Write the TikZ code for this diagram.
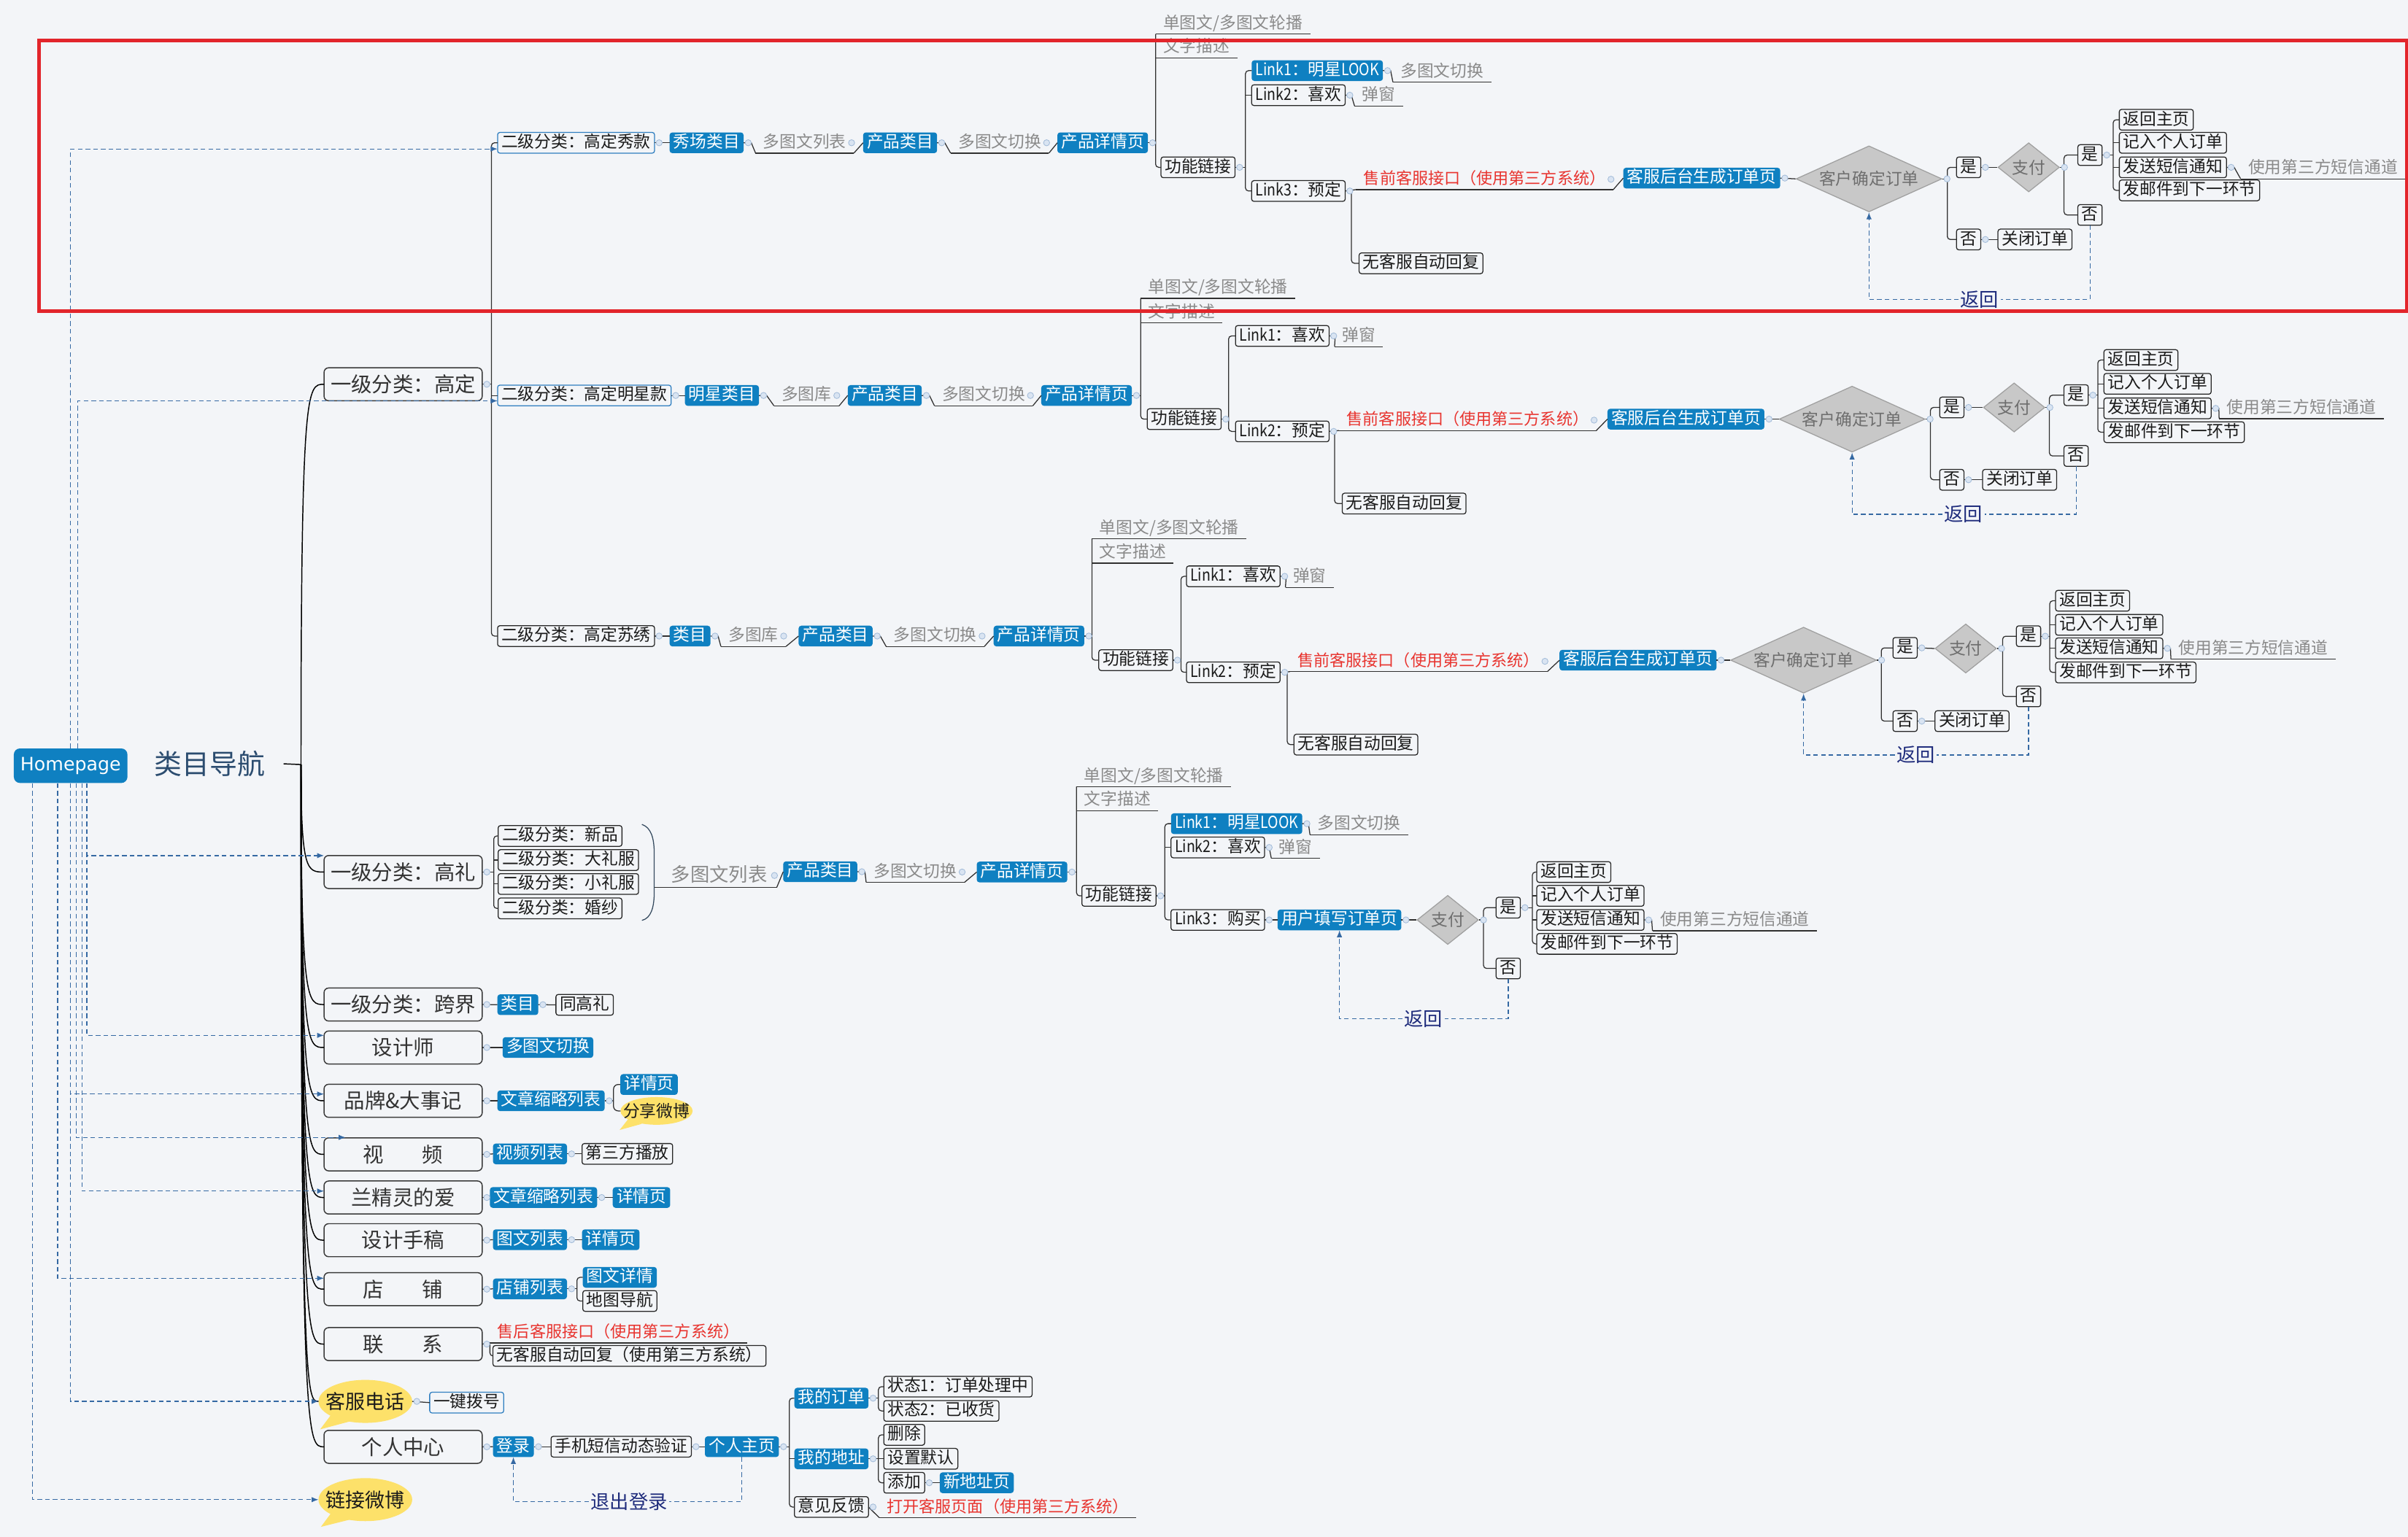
\documentclass[tikz,border=0pt]{standalone}
\usepackage{fontspec}
\setmainfont{Noto Sans CJK SC}
\newfontfamily\lat[FakeStretch=0.86]{Noto Sans CJK SC}
\newfontfamily\hpfont{DejaVu Sans}
\usetikzlibrary{calc,shapes.geometric,arrows.meta}
\definecolor{bgc}{HTML}{F3F5F8}
\definecolor{nbl}{HTML}{0F80C1}
\definecolor{boxc}{HTML}{262626}
\definecolor{boxcA}{HTML}{3A3A3A}
\definecolor{bdb}{HTML}{2F7EC0}
\definecolor{gtx}{HTML}{8A8A8A}
\definecolor{ulc}{HTML}{303030}
\definecolor{rdx}{HTML}{E8342F}
\definecolor{txt}{HTML}{1A1A1A}
\definecolor{txtA}{HTML}{333333}
\definecolor{dmf}{HTML}{C8C8C8}
\definecolor{dmd}{HTML}{A0A0A0}
\definecolor{dmt}{HTML}{6E6E6E}
\definecolor{yel}{HTML}{FDE16A}
\definecolor{navy}{HTML}{1F2C7C}
\definecolor{relc}{HTML}{3569A3}
\definecolor{knf}{HTML}{D9E4F2}
\definecolor{knd}{HTML}{A3BCD9}
\definecolor{ttl}{HTML}{2B4C6F}
\definecolor{redc}{HTML}{E2252B}
\definecolor{brc}{HTML}{34495E}
\newcommand\fsA{\fontsize{10.8pt}{12pt}\selectfont}
\newcommand\fsR{\fontsize{10.5pt}{12pt}\selectfont}
\newcommand\fsB{\fontsize{13.5pt}{15pt}\selectfont}
\newcommand\fsC{\fontsize{12.8pt}{14pt}\selectfont}
\newcommand\fsD{\fontsize{12.5pt}{14pt}\selectfont}
\newcommand\fsE{\fontsize{18pt}{20pt}\selectfont}
\newcommand\fsG{\fontsize{12.5pt}{14pt}\selectfont}
\begin{document}
\begin{tikzpicture}[x=1pt,y=-1pt,
 base/.style={font=\fsA, inner xsep=2.5pt, inner ysep=1pt, text height=9pt, text depth=2.5pt, outer sep=0pt},
 bx/.style={base, draw=boxc, fill=bgc, line width=0.6pt, rounded corners=1.5pt, text=txt},
 bxb/.style={bx, draw=bdb},
 bl/.style={base, fill=nbl, text=white, rounded corners=1.8pt},
 ulbase/.style={base, inner xsep=5pt, append after command={(\tikzlastnode.south west) edge[draw=ulc, line width=0.6pt] (\tikzlastnode.south east)}},
 gt/.style={ulbase, text=gtx},
 gtB/.style={gt, font=\fsG, text height=10.5pt, text depth=3pt, minimum width=75pt},
 rd/.style={ulbase, text=rdx, font=\fsR},
 one/.style={draw=boxcA, fill=bgc, line width=0.7pt, rounded corners=3pt, font=\fsB, minimum width=103pt, minimum height=21.5pt, inner sep=0pt, text=txtA, outer sep=0pt},
 dmL/.style={diamond, aspect=2, minimum width=95pt, minimum height=43pt, inner sep=0pt, fill=dmf, draw=dmd, line width=0.6pt, text=dmt, font=\fsA},
 dmS/.style={diamond, aspect=1, minimum width=40pt, minimum height=32pt, inner sep=0pt, fill=dmf, draw=dmd, line width=0.6pt, text=dmt, font=\fsA},
 cb/.style={ellipse, fill=yel, draw=none, inner sep=0pt, text=txt, outer sep=0pt},
 tail/.style={fill=yel},
 lbl/.style={font=\fsD, text=navy, fill=bgc, inner xsep=1pt, inner ysep=0pt},
 ln/.style={draw=ulc, line width=0.6pt},
 trunk/.style={draw=black, line width=0.7pt},
 rel/.style={draw=relc, line width=0.6pt, densely dashed},
 relar/.style={rel, -{Latex[length=4.5pt,width=3.5pt]}},
 knob/.style={draw=knd, fill=knf, line width=0.4pt}
]
\useasboundingbox (0,0) rectangle (1568,1001);
\fill[bgc] (0,0) rectangle (1568,1001);

% ---------- Homepage and root ----------
\node[fill=nbl, text=white, rounded corners=4pt, minimum width=74pt, minimum height=22.5pt, inner sep=0pt, font=\hpfont\fontsize{12pt}{14pt}\selectfont] (H) at (46,498.75) {Homepage};
\node[font=\fsE, text=ttl, inner sep=0pt] (T) at (136.5,497.5) {类目导航};
\coordinate (root) at (196,498);
\coordinate (cc) at (200,0);

% ---------- level 1 ----------
\node[one,anchor=west] (L1) at (211,250.3) {一级分类：高定};
\node[one,anchor=west] (L2) at (211,568) {一级分类：高礼};
\node[one,anchor=west] (L3) at (211,654.3) {一级分类：跨界};
\node[one,anchor=west] (L4) at (211,682.3) {设计师};
\node[one,anchor=west] (L5) at (211,717) {品牌\&大事记};
\node[one,anchor=west] (L6) at (211,751.9) {视\hspace{1.85em}频};
\node[one,anchor=west] (L7) at (211,780) {兰精灵的爱};
\node[one,anchor=west] (L8) at (211,807.8) {设计手稿};
\node[one,anchor=west] (L9) at (211,839.7) {店\hspace{1.85em}铺};
\node[one,anchor=west] (L10) at (211,875.5) {联\hspace{1.85em}系};
\fill[tail] (216,921) -- (208.5,931) -- (231,925) -- cycle;
\node[cb, font=\fsC, minimum width=61pt, minimum height=28pt] (L11) at (237.9,912.8) {\makebox[0pt]{客服电话}};
\node[one,anchor=west] (L12) at (211,942.4) {个人中心};
\fill[tail] (216,985) -- (209,994.5) -- (231,989) -- cycle;
\node[cb, font=\fsC, minimum width=61pt, minimum height=28pt] (L13) at (237.9,976.8) {\makebox[0pt]{链接微博}};

% ---------- trunk ----------
\draw[trunk] ([xshift=12pt]T.east) -- (root);
\foreach \nm in {L1,L2,L3,L4,L5,L6,L7,L8,L9,L10,L11,L12}{
  \draw[trunk] (root) .. controls (root |- \nm.west) and (cc |- \nm.west) .. (\nm.west);
}

% ---------- Block 1 ----------
\node[bxb,anchor=west] (a1) at (324,93) {二级分类：高定秀款};
\node[bl,anchor=west] (a2) at (436,93) {秀场类目};
\node[gt,anchor=west] (a3) at (492,93) {多图文列表};
\node[bl,anchor=west] (a4) at (562,93) {产品类目};
\node[gt,anchor=west] (a5) at (619,93) {多图文切换};
\node[bl,anchor=west] (a6) at (688.5,93) {产品详情页};
\node[gt,anchor=south west] (a7) at (752.5,22.2) {单图文/多图文轮播};
\node[gt,anchor=south west] (a8) at (752.5,37.6) {文字描述};
\node[bx,anchor=west] (a9) at (756,109) {功能链接};
\node[bl,anchor=west] (a10) at (815,46) {{\lat Link1}：明星{\lat LOOK}};
\node[bx,anchor=west] (a11) at (815,62) {{\lat Link2}：喜欢};
\node[bx,anchor=west] (a12) at (815,124.4) {{\lat Link3}：预定};
\node[gt,anchor=south west] (a13) at (907,53.5) {多图文切换};
\node[gt,anchor=south west] (a14) at (882,69) {弹窗};
\node[rd,anchor=south west] (a15) at (883,123.5) {售前客服接口（使用第三方系统）};
\node[bx,anchor=west] (a16) at (885,171.5) {无客服自动回复};
\node[bl,anchor=west] (a17) at (1057,116) {客服后台生成订单页};
\node[dmL] (a18) at (1217,116.5) {客户确定订单};
\node[bx,anchor=west] (a19) at (1274,109) {是};
\node[bx,anchor=west] (a20) at (1274,156) {否};
\node[dmS] (a21) at (1321,109) {支付};
\node[bx,anchor=west] (a22) at (1353,101) {是};
\node[bx,anchor=west] (a23) at (1353,140) {否};
\node[bx,anchor=west] (a24) at (1301,156) {关闭订单};
\node[bx,anchor=west] (a25) at (1380,78) {返回主页};
\node[bx,anchor=west] (a26) at (1380,93) {记入个人订单};
\node[bx,anchor=west] (a27) at (1380,109) {发送短信通知};
\node[bx,anchor=west] (a28) at (1380,124) {发邮件到下一环节};
\node[gt,anchor=south west] (a29) at (1459,116.5) {使用第三方短信通道};
\node[lbl] (a30) at (1289,195) {返回};

\draw[ln] (a1.east) -- (a2.west);
\draw[ln] (a2.east) -- ++(5,0) -- (a3.south west);
\draw[ln] (a3.south east) -- (a4.west);
\draw[ln] (a4.east) -- ++(5,0) -- (a5.south west);
\draw[ln] (a5.south east) -- (a6.west);
\coordinate (va) at (752.5,0);
\draw[ln] (a6.east) -- (va |- a6.east);
\draw[ln,rounded corners=2pt] (a7.south west) -- (va |- a9.west) -- (a9.west);
\coordinate (vb) at (811,0);
\draw[ln] (a9.east) -- (vb |- a9.east);
\draw[ln,rounded corners=2pt] (a10.west) -- (vb |- a10.west) -- (vb |- a12.west) -- (a12.west);
\draw[ln] (vb |- a11.west) -- (a11.west);
\draw[ln] (a10.east) -- ++(5,0) -- (a13.south west);
\draw[ln] (a11.east) -- ++(4,0) -- (a14.south west);
\coordinate (vc) at (880,0);
\draw[ln] (a12.east) -- (a15.south west);
\draw[ln,rounded corners=2pt] (vc |- a12.east) |- (a16.west);
\draw[ln] (a15.south east) -- (a17.west);
\draw[ln] (a17.east) -- (a18.west);
\coordinate (vd) at (1268,0);
\draw[ln] (a18.east) -- (vd |- a18.east);
\draw[ln,rounded corners=2pt] (a19.west) -- (vd |- a19.west) -- (vd |- a20.west) -- (a20.west);
\draw[ln] (a19.east) -- (a21.west);
\coordinate (ve) at (1344,0);
\draw[ln] (a21.east) -- (ve |- a21.east);
\draw[ln,rounded corners=2pt] (a22.west) -- (ve |- a22.west) -- (ve |- a23.west) -- (a23.west);
\draw[ln] (a20.east) -- (a24.west);
\coordinate (vf) at (1376,0);
\draw[ln] (a22.east) -- (vf |- a22.east);
\draw[ln,rounded corners=2pt] (a25.west) -- (vf |- a25.west) -- (vf |- a28.west) -- (a28.west);
\draw[ln] (vf |- a26.west) -- (a26.west);
\draw[ln] (vf |- a27.west) -- (a27.west);
\draw[ln] (a27.east) -- ++(5,0) -- (a29.south west);
\draw[rel] (a23.south) |- (a30.east);
\draw[relar] (a30.west) -| (a18.south);

% ---------- Block 2 ----------
\node[bxb,anchor=west] (b1) at (324,257.6) {二级分类：高定明星款};
\node[bl,anchor=west] (b2) at (446,257.6) {明星类目};
\node[gt,anchor=west] (b3) at (504,257.6) {多图库};
\node[bl,anchor=west] (b4) at (552,257.6) {产品类目};
\node[gt,anchor=west] (b5) at (608.5,257.6) {多图文切换};
\node[bl,anchor=west] (b6) at (678,257.6) {产品详情页};
\node[gt,anchor=south west] (b7) at (742.8,194.3) {单图文/多图文轮播};
\node[gt,anchor=south west] (b8) at (742.8,210.3) {文字描述};
\node[bx,anchor=west] (b9) at (747,273) {功能链接};
\node[bx,anchor=west] (b10) at (804.5,218.8) {{\lat Link1}：喜欢};
\node[bx,anchor=west] (b11) at (804.5,281) {{\lat Link2}：预定};
\node[gt,anchor=south west] (b12) at (869,225.8) {弹窗};
\node[rd,anchor=south west] (b13) at (872,280.4) {售前客服接口（使用第三方系统）};
\node[bx,anchor=west] (b14) at (874,328) {无客服自动回复};
\node[bl,anchor=west] (b15) at (1046.7,273) {客服后台生成订单页};
\node[dmL] (b16) at (1206,273) {客户确定订单};
\node[bx,anchor=west] (b17) at (1263,265.4) {是};
\node[bx,anchor=west] (b18) at (1263,312.5) {否};
\node[dmS] (b19) at (1311.5,265.4) {支付};
\node[bx,anchor=west] (b20) at (1344,257.4) {是};
\node[bx,anchor=west] (b21) at (1344,297) {否};
\node[bx,anchor=west] (b22) at (1291,312.5) {关闭订单};
\node[bx,anchor=west] (b23) at (1370,234.5) {返回主页};
\node[bx,anchor=west] (b24) at (1370,250) {记入个人订单};
\node[bx,anchor=west] (b25) at (1370,266) {发送短信通知};
\node[bx,anchor=west] (b26) at (1370,281.5) {发邮件到下一环节};
\node[gt,anchor=south west] (b27) at (1445,272.7) {使用第三方短信通道};
\node[lbl] (b28) at (1278.5,335) {返回};

\draw[ln] (b1.east) -- (b2.west);
\draw[ln] (b2.east) -- ++(5,0) -- (b3.south west);
\draw[ln] (b3.south east) -- (b4.west);
\draw[ln] (b4.east) -- ++(5,0) -- (b5.south west);
\draw[ln] (b5.south east) -- (b6.west);
\coordinate (vg) at (742.8,0);
\draw[ln] (b6.east) -- (vg |- b6.east);
\draw[ln,rounded corners=2pt] (b7.south west) -- (vg |- b9.west) -- (b9.west);
\coordinate (vh) at (800,0);
\draw[ln] (b9.east) -- (vh |- b9.east);
\draw[ln,rounded corners=2pt] (b10.west) -- (vh |- b10.west) -- (vh |- b11.west) -- (b11.west);
\draw[ln] (b10.east) -- ++(4,0) -- (b12.south west);
\coordinate (vi) at (869,0);
\draw[ln] (b11.east) -- (b13.south west);
\draw[ln,rounded corners=2pt] (vi |- b11.east) |- (b14.west);
\draw[ln] (b13.south east) -- (b15.west);
\draw[ln] (b15.east) -- (b16.west);
\coordinate (vj) at (1257,0);
\draw[ln] (b16.east) -- (vj |- b16.east);
\draw[ln,rounded corners=2pt] (b17.west) -- (vj |- b17.west) -- (vj |- b18.west) -- (b18.west);
\draw[ln] (b17.east) -- (b19.west);
\coordinate (vk) at (1334.5,0);
\draw[ln] (b19.east) -- (vk |- b19.east);
\draw[ln,rounded corners=2pt] (b20.west) -- (vk |- b20.west) -- (vk |- b21.west) -- (b21.west);
\draw[ln] (b18.east) -- (b22.west);
\coordinate (vl) at (1366,0);
\draw[ln] (b20.east) -- (vl |- b20.east);
\draw[ln,rounded corners=2pt] (b23.west) -- (vl |- b23.west) -- (vl |- b26.west) -- (b26.west);
\draw[ln] (vl |- b24.west) -- (b24.west);
\draw[ln] (vl |- b25.west) -- (b25.west);
\draw[ln] (b25.east) -- ++(5,0) -- (b27.south west);
\draw[rel] (b21.south) |- (b28.east);
\draw[relar] (b28.west) -| (b16.south);

% ---------- Block 3 ----------
\node[bx,anchor=west] (c1) at (324,414.3) {二级分类：高定苏绣};
\node[bl,anchor=west] (c2) at (436,414.3) {类目};
\node[gt,anchor=west] (c3) at (469.4,414.3) {多图库};
\node[bl,anchor=west] (c4) at (520,414.3) {产品类目};
\node[gt,anchor=west] (c5) at (577,414.3) {多图文切换};
\node[bl,anchor=west] (c6) at (647,414.3) {产品详情页};
\node[gt,anchor=south west] (c7) at (711,351) {单图文/多图文轮播};
\node[gt,anchor=south west] (c8) at (711,366.8) {文字描述};
\node[bx,anchor=west] (c9) at (715.5,430) {功能链接};
\node[bx,anchor=west] (c10) at (772.6,375.4) {{\lat Link1}：喜欢};
\node[bx,anchor=west] (c11) at (772.6,437.9) {{\lat Link2}：预定};
\node[gt,anchor=south west] (c12) at (837,382.6) {弹窗};
\node[rd,anchor=south west] (c13) at (840,437.5) {售前客服接口（使用第三方系统）};
\node[bx,anchor=west] (c14) at (842.6,485) {无客服自动回复};
\node[bl,anchor=west] (c15) at (1015.5,430) {客服后台生成订单页};
\node[dmL] (c16) at (1174.4,430) {客户确定订单};
\node[bx,anchor=west] (c17) at (1232.6,422) {是};
\node[bx,anchor=west] (c18) at (1232.6,469.7) {否};
\node[dmS] (c19) at (1280,422.4) {支付};
\node[bx,anchor=west] (c20) at (1313,414.4) {是};
\node[bx,anchor=west] (c21) at (1313,453.6) {否};
\node[bx,anchor=west] (c22) at (1260,469.7) {关闭订单};
\node[bx,anchor=west] (c23) at (1338.5,391.3) {返回主页};
\node[bx,anchor=west] (c24) at (1338.5,407) {记入个人订单};
\node[bx,anchor=west] (c25) at (1338.5,422.3) {发送短信通知};
\node[bx,anchor=west] (c26) at (1338.5,438) {发邮件到下一环节};
\node[gt,anchor=south west] (c27) at (1413.6,429.3) {使用第三方短信通道};
\node[lbl] (c28) at (1247.5,491.8) {返回};

\draw[ln] (c1.east) -- (c2.west);
\draw[ln] (c2.east) -- ++(5,0) -- (c3.south west);
\draw[ln] (c3.south east) -- (c4.west);
\draw[ln] (c4.east) -- ++(5,0) -- (c5.south west);
\draw[ln] (c5.south east) -- (c6.west);
\coordinate (vm) at (711,0);
\draw[ln] (c6.east) -- (vm |- c6.east);
\draw[ln,rounded corners=2pt] (c7.south west) -- (vm |- c9.west) -- (c9.west);
\coordinate (vn) at (769,0);
\draw[ln] (c9.east) -- (vn |- c9.east);
\draw[ln,rounded corners=2pt] (c10.west) -- (vn |- c10.west) -- (vn |- c11.west) -- (c11.west);
\draw[ln] (c10.east) -- ++(4,0) -- (c12.south west);
\coordinate (vo) at (838.2,0);
\draw[ln] (c11.east) -- (c13.south west);
\draw[ln,rounded corners=2pt] (vo |- c11.east) |- (c14.west);
\draw[ln] (c13.south east) -- (c15.west);
\draw[ln] (c15.east) -- (c16.west);
\coordinate (vp) at (1225,0);
\draw[ln] (c16.east) -- (vp |- c16.east);
\draw[ln,rounded corners=2pt] (c17.west) -- (vp |- c17.west) -- (vp |- c18.west) -- (c18.west);
\draw[ln] (c17.east) -- (c19.west);
\coordinate (vq) at (1304,0);
\draw[ln] (c19.east) -- (vq |- c19.east);
\draw[ln,rounded corners=2pt] (c20.west) -- (vq |- c20.west) -- (vq |- c21.west) -- (c21.west);
\draw[ln] (c18.east) -- (c22.west);
\coordinate (vr) at (1334.7,0);
\draw[ln] (c20.east) -- (vr |- c20.east);
\draw[ln,rounded corners=2pt] (c23.west) -- (vr |- c23.west) -- (vr |- c26.west) -- (c26.west);
\draw[ln] (vr |- c24.west) -- (c24.west);
\draw[ln] (vr |- c25.west) -- (c25.west);
\draw[ln] (c25.east) -- ++(5,0) -- (c27.south west);
\draw[rel] (c21.south) |- (c28.east);
\draw[relar] (c28.west) -| (c16.south);

\coordinate (vs) at (320,0);
\draw[ln] (L1.east) -- (vs |- L1.east);
\draw[ln,rounded corners=2pt] (a1.west) -- (vs |- a1.west) -- (vs |- c1.west) -- (c1.west);
\draw[ln] (vs |- b1.west) -- (b1.west);

% ---------- 高礼 ----------
\node[bx,anchor=west] (d1) at (324.4,544.5) {二级分类：新品};
\node[bx,anchor=west] (d2) at (324.4,560.2) {二级分类：大礼服};
\node[bx,anchor=west] (d3) at (324.4,575.8) {二级分类：小礼服};
\node[bx,anchor=west] (d4) at (324.4,591.7) {二级分类：婚纱};
\node[gtB,anchor=south west] (d5) at (430.8,578) {多图文列表};
\node[bl,anchor=west] (d6) at (510,567.8) {产品类目};
\node[gt,anchor=west] (d7) at (564,568) {多图文切换};
\node[bl,anchor=west] (d8) at (636,568) {产品详情页};
\node[gt,anchor=south west] (d9) at (701,512.4) {单图文/多图文轮播};
\node[gt,anchor=south west] (d10) at (701,528) {文字描述};
\node[bx,anchor=west] (d11) at (704.5,583.5) {功能链接};
\node[bl,anchor=west] (d12) at (762.5,536.5) {{\lat Link1}：明星{\lat LOOK}};
\node[bx,anchor=west] (d13) at (762.5,552) {{\lat Link2}：喜欢};
\node[bx,anchor=west] (d14) at (762.5,599.2) {{\lat Link3}：购买};
\node[gt,anchor=south west] (d15) at (853,543.7) {多图文切换};
\node[gt,anchor=south west] (d16) at (827.8,559) {弹窗};
\node[bl,anchor=west] (d17) at (831.9,599.2) {用户填写订单页};
\node[dmS] (d18) at (942.7,599.2) {支付};
\node[bx,anchor=west] (d19) at (974.2,591.2) {是};
\node[bx,anchor=west] (d20) at (974.2,630.8) {否};
\node[bx,anchor=west] (d21) at (1000.7,568) {返回主页};
\node[bx,anchor=west] (d22) at (1000.7,583.5) {记入个人订单};
\node[bx,anchor=west] (d23) at (1000.7,599.2) {发送短信通知};
\node[bx,anchor=west] (d24) at (1000.7,614.8) {发邮件到下一环节};
\node[gt,anchor=south west] (d25) at (1076,606.3) {使用第三方短信通道};
\node[lbl] (d26) at (927,663.6) {返回};

\coordinate (vt) at (321.5,0);
\draw[ln] (L2.east) -- (vt |- L2.east);
\draw[ln,rounded corners=2pt] (d1.west) -- (vt |- d1.west) -- (vt |- d4.west) -- (d4.west);
\draw[ln] (vt |- d2.west) -- (d2.west);
\draw[ln] (vt |- d3.west) -- (d3.west);
\draw[draw=brc, line width=0.6pt] (418,537) .. controls (424,539) and (426,546) .. (426,556) -- (426,581) .. controls (426,591) and (424,598) .. (418,599.5);
\coordinate (brm) at (426,578);
\draw[ln] (brm) -- (d5.south west);
\draw[ln] (d5.south east) -- (d6.west);
\draw[ln] (d6.east) -- ++(5,0) -- (d7.south west);
\draw[ln] (d7.south east) -- (d8.west);
\coordinate (vu) at (701,0);
\draw[ln] (d8.east) -- (vu |- d8.east);
\draw[ln,rounded corners=2pt] (d9.south west) -- (vu |- d11.west) -- (d11.west);
\coordinate (vw) at (758.5,0);
\draw[ln] (d11.east) -- (vw |- d11.east);
\draw[ln,rounded corners=2pt] (d12.west) -- (vw |- d12.west) -- (vw |- d14.west) -- (d14.west);
\draw[ln] (vw |- d13.west) -- (d13.west);
\draw[ln] (d12.east) -- ++(4,0) -- (d15.south west);
\draw[ln] (d13.east) -- ++(3,0) -- (d16.south west);
\draw[ln] (d14.east) -- (d17.west);
\draw[ln] (d17.east) -- (d18.west);
\coordinate (vx) at (966,0);
\draw[ln] (d18.east) -- (vx |- d18.east);
\draw[ln,rounded corners=2pt] (d19.west) -- (vx |- d19.west) -- (vx |- d20.west) -- (d20.west);
\coordinate (vy) at (997.8,0);
\draw[ln] (d19.east) -- (vy |- d19.east);
\draw[ln,rounded corners=2pt] (d21.west) -- (vy |- d21.west) -- (vy |- d24.west) -- (d24.west);
\draw[ln] (vy |- d22.west) -- (d22.west);
\draw[ln] (vy |- d23.west) -- (d23.west);
\draw[ln] (d23.east) -- ++(5,0) -- (d25.south west);
\draw[rel] (d20.south) |- (d26.east);
\draw[relar] (d26.west) -| (d17.south);

% ---------- other level-1 branches ----------
\node[bl,anchor=west] (e1) at (323.9,654.4) {类目};
\node[bx,anchor=west] (e2) at (362,654.5) {同高礼};
\node[bl,anchor=west] (e3) at (327.3,682.3) {多图文切换};
\node[bl,anchor=west] (e4) at (323.9,717) {文章缩略列表};
\node[bl,anchor=west] (e5) at (403.9,706.4) {详情页};
\fill[tail] (409,729) -- (403.5,736) -- (418,732) -- cycle;
\node[cb, font=\fsA, minimum width=47pt, minimum height=18pt] (e6) at (427.5,723.6) {\makebox[0pt]{分享微博}};
\node[bl,anchor=west] (e7) at (321,751.6) {视频列表};
\node[bx,anchor=west] (e8) at (379,751.6) {第三方播放};
\node[bl,anchor=west] (e9) at (319,780) {文章缩略列表};
\node[bl,anchor=west] (e10) at (399,780) {详情页};
\node[bl,anchor=west] (e11) at (321,807.5) {图文列表};
\node[bl,anchor=west] (e12) at (379,807.5) {详情页};
\node[bl,anchor=west] (e13) at (321,839.5) {店铺列表};
\node[bl,anchor=west] (e14) at (379.5,832) {图文详情};
\node[bx,anchor=west] (e15) at (379.5,847.4) {地图导航};
\node[rd,anchor=south west] (e16) at (319,874.7) {售后客服接口（使用第三方系统）};
\node[bx,anchor=west] (e17) at (321,883.2) {无客服自动回复（使用第三方系统）};
\node[bxb,anchor=west] (e18) at (279.8,913.6) {一键拨号};
\node[bl,anchor=west] (e19) at (321,942.3) {登录};
\node[bx,anchor=west] (e20) at (358.8,942.3) {手机短信动态验证};
\node[bl,anchor=west] (e21) at (459,942.3) {个人主页};
\node[bl,anchor=west] (e22) at (517.3,910.7) {我的订单};
\node[bl,anchor=west] (e23) at (517.3,950.2) {我的地址};
\node[bx,anchor=west] (e24) at (517.3,981.6) {意见反馈};
\node[bx,anchor=west] (e25) at (575.5,903.2) {状态{\lat 1}：订单处理中};
\node[bx,anchor=west] (e26) at (575.5,919) {状态{\lat 2}：已收货};
\node[bx,anchor=west] (e27) at (575.5,934.6) {删除};
\node[bx,anchor=west] (e28) at (575.5,950.2) {设置默认};
\node[bx,anchor=west] (e29) at (575.5,965.8) {添加};
\node[bl,anchor=west] (e30) at (611.9,965.8) {新地址页};
\node[rd,anchor=south west] (e31) at (572.5,988.5) {打开客服页面（使用第三方系统）};
\node[lbl] (e32) at (409.6,978.2) {退出登录};

\draw[ln] (L3.east) -- (e1.west);
\draw[ln] (e1.east) -- (e2.west);
\draw[ln] (L4.east) -- (e3.west);
\draw[ln] (L5.east) -- (e4.west);
\coordinate (vz) at (399.5,0);
\draw[ln] (e4.east) -- (vz |- e4.east);
\draw[ln,rounded corners=3pt] (e5.west) -- (vz |- e5.west) -- (vz |- e6.west) -- (e6.west);
\draw[ln] (L6.east) -- (e7.west);
\draw[ln] (e7.east) -- (e8.west);
\draw[ln] (L7.east) -- (e9.west);
\draw[ln] (e9.east) -- (e10.west);
\draw[ln] (L8.east) -- (e11.west);
\draw[ln] (e11.east) -- (e12.west);
\draw[ln] (L9.east) -- (e13.west);
\coordinate (vA) at (375.7,0);
\draw[ln] (e13.east) -- (vA |- e13.east);
\draw[ln,rounded corners=2pt] (e14.west) -- (vA |- e14.west) -- (vA |- e15.west) -- (e15.west);
\draw[ln] (L10.east) -- (e16.south west);
\draw[ln,rounded corners=2pt] (e16.south west) |- (e17.west);
\draw[ln] (L11.east) -- (e18.west);
\draw[ln] (L12.east) -- (e19.west);
\draw[ln] (e19.east) -- (e20.west);
\draw[ln] (e20.east) -- (e21.west);
\coordinate (vC) at (514,0);
\draw[ln] (e21.east) -- (vC |- e21.east);
\draw[ln,rounded corners=2pt] (e22.west) -- (vC |- e22.west) -- (vC |- e24.west) -- (e24.west);
\draw[ln] (vC |- e23.west) -- (e23.west);
\coordinate (vD) at (572,0);
\draw[ln] (e22.east) -- (vD |- e22.east);
\draw[ln,rounded corners=2pt] (e25.west) -- (vD |- e25.west) -- (vD |- e26.west) -- (e26.west);
\draw[ln] (e23.east) -- (vD |- e23.east);
\draw[ln,rounded corners=2pt] (e27.west) -- (vD |- e27.west) -- (vD |- e29.west) -- (e29.west);
\draw[ln] (vD |- e28.west) -- (e28.west);
\draw[ln] (e29.east) -- (e30.west);
\draw[ln] (e24.east) -- (e31.south west);
\draw[rel] (e21.south) |- (e32.east);
\draw[relar] (e32.west) -| (e19.south);

% ---------- relationship lines from Homepage ----------
\draw[relar] (H.north) |- ($(a1.west)+(0,4)$);
\draw[relar] ($(H.north)+(4.7,0)$) |- ($(b1.west)+(0,3.5)$);
\draw[relar] ($(H.south)+(10.6,0)$) |- ($(L2.west)+(0,-10.7)$);
\draw[relar] ($(H.south)+(10.6,0)$) |- ($(L4.west)+(0,-7.9)$);
\draw[relar] (H.south) |- ($(L5.west)+(0,-4.4)$);
\draw[relar] (H.south) |- (L11.west);
\draw[relar] ($(H.south)+(3.6,0)$) |- ($(L6.north west)+(14,-0.3)$);
\draw[relar] ($(H.south)+(7.4,0)$) |- ($(L7.west)+(0,-4.2)$);
\draw[relar] ($(H.south)+(-8.5,0)$) |- ($(L9.west)+(0,-7.1)$);
\draw[relar] ($(H.south)+(-25,0)$) |- (L13.west);

% ---------- collapse knobs ----------
\foreach \k in {a1,a2,a4,a6,a9,a10,a11,a12,a17,a18,a19,a20,a21,a22,a27,
  b1,b2,b4,b6,b9,b10,b11,b15,b16,b17,b18,b19,b20,b25,
  c1,c2,c4,c6,c9,c10,c11,c15,c16,c17,c18,c19,c20,c25,
  L1,L2,d6,d8,d11,d12,d13,d14,d17,d18,d19,d23,
  L3,e1,L4,L5,e4,L6,e7,L7,e9,L8,e11,L9,e13,L10,L11,L12,e19,e20,e21,e22,e23,e24,e29}{
  \draw[knob] ($(\k.east)+(3,0)$) circle[radius=2pt];
}
\foreach \k in {a3,a5,a15,b3,b5,b13,c3,c5,c13,d5,d7}{
  \draw[knob] ($(\k.east)+(-1.5,0)$) circle[radius=2pt];
}

% ---------- red frame ----------
\draw[draw=redc, line width=2.2pt] (25.5,26.5) rectangle (1567,202.5);
\end{tikzpicture}
\end{document}
